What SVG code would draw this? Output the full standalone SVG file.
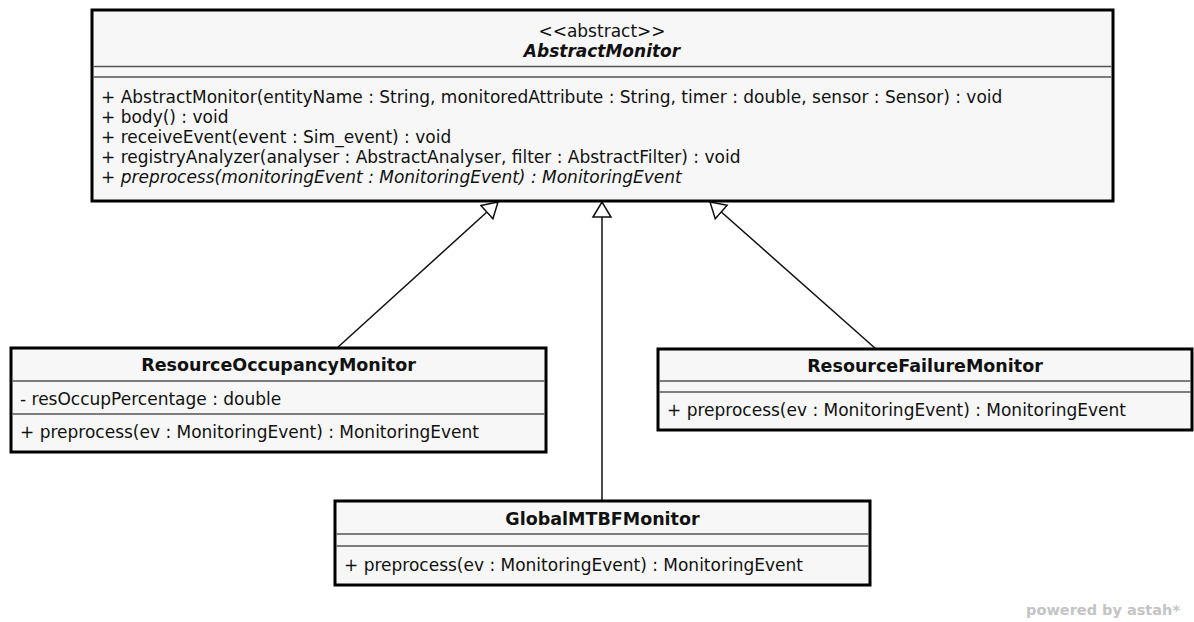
<svg xmlns="http://www.w3.org/2000/svg" width="1194" height="622" viewBox="0 0 1194 622">
  <style>
    text { font-family: "DejaVu Sans", "Liberation Sans", sans-serif; font-size: 17px; fill: #111; }
    .cls { fill: #f7f7f7; stroke: #000; stroke-width: 3; }
    .sep { stroke: #555; stroke-width: 1.5; }
    .name { font-weight: bold; font-size: 17.5px; text-anchor: middle; }
    .abs { font-weight: bold; font-style: italic; text-anchor: middle; }
    .stereo { text-anchor: middle; }
    .it { font-style: italic; }
    .edge { stroke: #111; stroke-width: 1.5; fill: none; marker-end: url(#gen); }
    .wm { font-weight: bold; font-size: 14.5px; fill: #c4c4c4; text-anchor: end; }
  </style>
  <defs>
    <!-- hollow generalization arrowhead -->
    <marker id="gen" markerUnits="userSpaceOnUse" markerWidth="18" markerHeight="22" viewBox="0 -11 18 22" refX="16" refY="0" orient="auto">
      <path d="M1,-9 L16,0 L1,9 Z" fill="#fff" stroke="#111" stroke-width="1.5"/>
    </marker>
  </defs>
  <rect width="1194" height="622" fill="#fff"/>

  <!-- generalization connectors -->
  <g id="connectors">
    <line class="edge" x1="337" y1="348" x2="498" y2="202"/>
    <line class="edge" x1="602" y1="501" x2="602" y2="202"/>
    <line class="edge" x1="876" y1="349" x2="710" y2="202"/>
  </g>

  <g id="AbstractMonitor">
    <rect class="cls" x="92" y="10" width="1021" height="191"/>
    <line class="sep" x1="93.5" y1="66.5" x2="1111.5" y2="66.5"/>
    <line class="sep" x1="93.5" y1="77" x2="1111.5" y2="77"/>
    <text class="stereo" x="602" y="37">&lt;&lt;abstract&gt;&gt;</text>
    <text class="abs" x="602" y="57">AbstractMonitor</text>
    <text x="101" y="103">+ AbstractMonitor(entityName : String, monitoredAttribute : String, timer : double, sensor : Sensor) : void</text>
    <text x="101" y="123">+ body() : void</text>
    <text x="101" y="143">+ receiveEvent(event : Sim_event) : void</text>
    <text x="101" y="163">+ registryAnalyzer(analyser : AbstractAnalyser, filter : AbstractFilter) : void</text>
    <text class="it" x="101" y="183">+ preprocess(monitoringEvent : MonitoringEvent) : MonitoringEvent</text>
  </g>

  <g id="ResourceOccupancyMonitor">
    <rect class="cls" x="11" y="348" width="535" height="104"/>
    <line class="sep" x1="12.5" y1="381" x2="544.5" y2="381"/>
    <line class="sep" x1="12.5" y1="414" x2="544.5" y2="414"/>
    <text class="name" x="278.5" y="371">ResourceOccupancyMonitor</text>
    <text x="20" y="405">- resOccupPercentage : double</text>
    <text x="20" y="438">+ preprocess(ev : MonitoringEvent) : MonitoringEvent</text>
  </g>

  <g id="ResourceFailureMonitor">
    <rect class="cls" x="658" y="349" width="534" height="81"/>
    <line class="sep" x1="659.5" y1="381" x2="1190.5" y2="381"/>
    <line class="sep" x1="659.5" y1="392" x2="1190.5" y2="392"/>
    <text class="name" x="925" y="372">ResourceFailureMonitor</text>
    <text x="667" y="416">+ preprocess(ev : MonitoringEvent) : MonitoringEvent</text>
  </g>

  <g id="GlobalMTBFMonitor">
    <rect class="cls" x="335" y="501" width="535" height="84"/>
    <line class="sep" x1="336.5" y1="534" x2="868.5" y2="534"/>
    <line class="sep" x1="336.5" y1="546" x2="868.5" y2="546"/>
    <text class="name" x="602.5" y="525">GlobalMTBFMonitor</text>
    <text x="344" y="571">+ preprocess(ev : MonitoringEvent) : MonitoringEvent</text>
  </g>

  <text class="wm" x="1180" y="615">powered by astah*</text>
</svg>
